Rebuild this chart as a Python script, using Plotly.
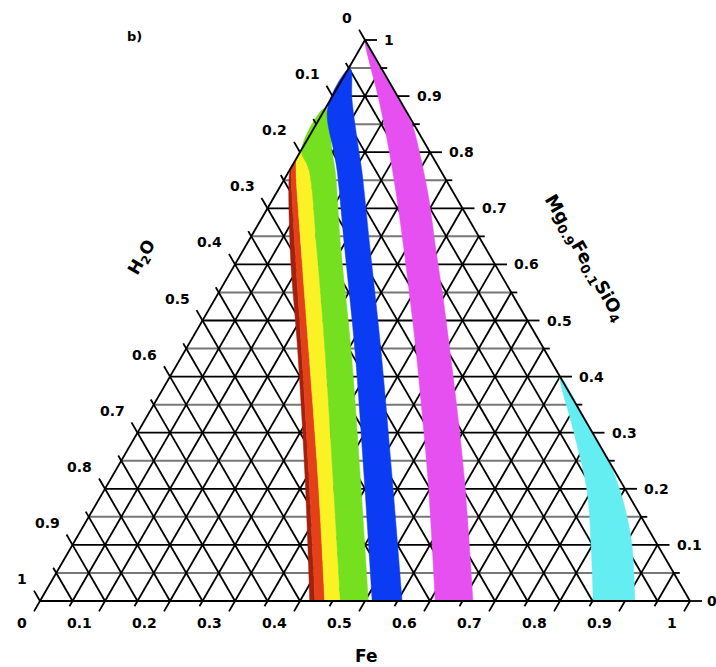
import numpy as np
import plotly.graph_objects as go

# ---------------- data ----------------
# Ternary composition: mg = Mg0.9Fe0.1SiO4 fraction (top vertex),
# fe = Fe fraction (bottom-right vertex), H2O = 1 - mg - fe (bottom-left vertex)
tick_vals = [0.0, 0.1, 0.2, 0.3, 0.4, 0.5, 0.6, 0.7, 0.8, 0.9, 1.0]
tick_text = ["0", "0.1", "0.2", "0.3", "0.4", "0.5", "0.6", "0.7", "0.8", "0.9", "1"]
minor_vals = [0.05, 0.15, 0.25, 0.35, 0.45, 0.55, 0.65, 0.75, 0.85, 0.95]

# band boundaries, as (mg, fe) pairs, listed from top to bottom
b_darkred_mg = [0.770, 0.626, 0.447, 0.216, 0.0]
b_darkred_fe = [0.000, 0.072, 0.173, 0.300, 0.415]
b_red_mg = [0.778, 0.768, 0.626, 0.447, 0.216, 0.0]
b_red_fe = [0.000, 0.003, 0.0795, 0.179, 0.306, 0.423]
b_yellow_mg = [0.790, 0.768, 0.626, 0.447, 0.216, 0.0]
b_yellow_fe = [0.000, 0.010, 0.089, 0.190, 0.320, 0.438]
b_green_mg = [0.805, 0.768, 0.626, 0.447, 0.216, 0.0]
b_green_fe = [0.000, 0.030, 0.113, 0.215, 0.343, 0.462]
green_right_mg = [0.879, 0.799, 0.768, 0.626, 0.447, 0.216, 0.0]
green_right_fe = [0.000, 0.050, 0.070, 0.150, 0.255, 0.385, 0.505]
blue_left_mg = [0.948, 0.879, 0.799, 0.768, 0.626, 0.447, 0.216, 0.0]
blue_left_fe = [0.000, 0.003, 0.053, 0.073, 0.156, 0.261, 0.391, 0.511]
blue_right_mg = [0.948, 0.893, 0.799, 0.768, 0.626, 0.447, 0.216, 0.0]
blue_right_fe = [0.004, 0.0335, 0.0915, 0.111, 0.195, 0.301, 0.434, 0.557]
mag_left_mg = [1.0, 0.893, 0.804, 0.715, 0.626, 0.537, 0.447, 0.358, 0.216, 0.0]
mag_left_fe = [0.0, 0.075, 0.135, 0.192, 0.247, 0.301, 0.355, 0.407, 0.489, 0.608]
mag_right_mg = [1.0, 0.95, 0.893, 0.849, 0.804, 0.715, 0.626, 0.537, 0.447, 0.358, 0.216, 0.0]
mag_right_fe = [0.0, 0.048, 0.106, 0.148, 0.181, 0.241, 0.296, 0.352, 0.407, 0.461, 0.545, 0.666]
cyan_left_mg = [0.40, 0.305, 0.198, 0.096, 0.0]
cyan_left_fe = [0.600, 0.668, 0.7425, 0.800, 0.851]
cyan_right_mg = [0.40, 0.30, 0.25, 0.198, 0.150, 0.096, 0.0]
cyan_right_fe = [0.600, 0.700, 0.750, 0.793, 0.828, 0.863, 0.915]

band_colors = {
    "darkred": "#a3200d",
    "red": "#e4411b",
    "yellow": "#fbf226",
    "green": "#74e020",
    "blue": "#0b3cf4",
    "magenta": "#e650f0",
    "cyan": "#64eef2",
}

# ---------------- geometry helpers ----------------
S3 = np.sqrt(3) / 2
W, H = 716, 667
PX_LEFT, PX_RIGHT, PX_BOTTOM, PX_TOP = 40, 690, 601, 40
KX = PX_RIGHT - PX_LEFT               # px per x unit
KY = (PX_BOTTOM - PX_TOP) / S3        # px per y unit


def proj(mg, fe):
    mg = np.asarray(mg, dtype=float)
    fe = np.asarray(fe, dtype=float)
    return fe + 0.5 * mg, S3 * mg


def seg_trace(segs, color, width):
    xs, ys = [], []
    for m0, f0, m1, f1 in segs:
        x0, y0 = proj(m0, f0)
        x1, y1 = proj(m1, f1)
        xs += [float(x0), float(x1), None]
        ys += [float(y0), float(y1), None]
    return go.Scatter(x=xs, y=ys, mode="lines", line=dict(color=color, width=width),
                      hoverinfo="skip", showlegend=False)


fig = go.Figure()

# ---------------- grid ----------------
inner = sorted(tick_vals[1:-1] + minor_vals)
major_inner = tick_vals[1:-1]
diag_segs = []
horiz_major, horiz_minor = [], []
for v in inner:
    diag_segs.append((0.0, v, 1 - v, v))          # constant Fe
    diag_segs.append((1 - v, 0.0, 0.0, 1 - v))    # constant H2O
    if v in major_inner:
        horiz_major.append((v, 0.0, v, 1 - v))    # constant Mg
    else:
        horiz_minor.append((v, 0.0, v, 1 - v))
fig.add_trace(seg_trace(horiz_minor, "#777777", 2.0))
fig.add_trace(seg_trace(horiz_major, "black", 1.8))
fig.add_trace(seg_trace(diag_segs, "black", 1.8))

# ---------------- bands ----------------
bands = [
    (b_darkred_mg, b_darkred_fe, b_red_mg, b_red_fe, band_colors["darkred"]),
    (b_red_mg, b_red_fe, b_yellow_mg, b_yellow_fe, band_colors["red"]),
    (b_yellow_mg, b_yellow_fe, b_green_mg, b_green_fe, band_colors["yellow"]),
    (b_green_mg, b_green_fe, green_right_mg, green_right_fe, band_colors["green"]),
    (blue_left_mg, blue_left_fe, blue_right_mg, blue_right_fe, band_colors["blue"]),
    (mag_left_mg, mag_left_fe, mag_right_mg, mag_right_fe, band_colors["magenta"]),
    (cyan_left_mg, cyan_left_fe, cyan_right_mg, cyan_right_fe, band_colors["cyan"]),
]
for lm, lf, rm, rf, col in bands:
    xl, yl = proj(lm, lf)
    xr, yr = proj(rm, rf)
    # path: right boundary bottom -> top, then left boundary top -> bottom;
    # the fill closes with a straight segment along the bottom.
    xs = list(xr[::-1])
    ys = list(yr[::-1])
    start = 1 if (lm[0] == rm[0] and lf[0] == rf[0]) else 0
    xs += list(xl[start:])
    ys += list(yl[start:])
    fig.add_trace(go.Scatter(x=xs, y=ys, mode="lines", fill="toself", fillcolor=col,
                             line=dict(color=col, width=0.5, shape="spline", smoothing=1.0),
                             hoverinfo="skip", showlegend=False))

# ---------------- outline + ticks ----------------
outline = [(1.0, 0.0, 0.0, 0.0), (0.0, 0.0, 0.0, 1.0), (0.0, 1.0, 1.0, 0.0)]
fig.add_trace(seg_trace(outline, "black", 1.8))

L_MAJ = 12 / KX
L_MIN = 6 / KX
tick_segs = []
for vals, L in ((tick_vals, L_MAJ), (minor_vals, L_MIN)):
    for t in vals:
        tick_segs.append((1 - t, 0.0, 1 - t + L, -L))   # left: H2O
        tick_segs.append((0.0, t, -L, t))               # bottom: Fe
        tick_segs.append((t, 1 - t, t, 1 - t + L))      # right: Mg
fig.add_trace(seg_trace(tick_segs, "black", 1.8))

# ---------------- tick labels ----------------
lab_font = dict(family="DejaVu Sans", size=14, color="black", weight="bold")
annotations = []
for t, txt in zip(tick_vals, tick_text):
    x, y = proj(1 - t, 0.0)
    annotations.append(dict(x=float(x), y=float(y), text=txt, showarrow=False, xanchor="right",
                            yanchor="middle", xshift=-11, yshift=22, font=lab_font))
    x, y = proj(0.0, t)
    annotations.append(dict(x=float(x), y=float(y), text=txt, showarrow=False, xanchor="right",
                            yanchor="middle", xshift=-11, yshift=-22, font=lab_font))
    x, y = proj(t, 1 - t)
    annotations.append(dict(x=float(x), y=float(y), text=txt, showarrow=False, xanchor="left",
                            yanchor="middle", xshift=17 if t > 0 else 15, font=lab_font))

title_font = dict(family="DejaVu Sans", size=17, color="black", weight="bold")
annotations += [
    dict(xref="paper", yref="paper", x=134 / W, y=1 - 37 / H, text="b)", showarrow=False,
         xanchor="center", yanchor="middle",
         font=dict(family="DejaVu Sans", size=13, color="black", weight="bold")),
    dict(xref="paper", yref="paper", x=142 / W, y=1 - 258 / H, text="H<sub>2</sub>O",
         textangle=-60, showarrow=False, xanchor="center", yanchor="middle", font=title_font),
    dict(xref="paper", yref="paper", x=366 / W, y=1 - 656 / H, text="Fe",
         showarrow=False, xanchor="center", yanchor="middle", font=title_font),
    dict(xref="paper", yref="paper", x=584 / W, y=1 - 258 / H,
         text="Mg<sub>0.9</sub>Fe<sub>0.1</sub>SiO<sub>4</sub>",
         textangle=60, showarrow=False, xanchor="center", yanchor="middle",
         font=dict(family="DejaVu Sans", size=18, color="black", weight="bold")),
]

fig.update_layout(
    width=W, height=H, autosize=False,
    margin=dict(l=0, r=0, t=0, b=0),
    paper_bgcolor="white", plot_bgcolor="white",
    xaxis=dict(range=[(0 - PX_LEFT) / KX, (W - PX_LEFT) / KX], visible=False, fixedrange=True),
    yaxis=dict(range=[(PX_BOTTOM - H) / KY, PX_BOTTOM / KY], visible=False, fixedrange=True),
    showlegend=False,
    hovermode=False,
    annotations=annotations,
)

fig.write_html("out.html")
